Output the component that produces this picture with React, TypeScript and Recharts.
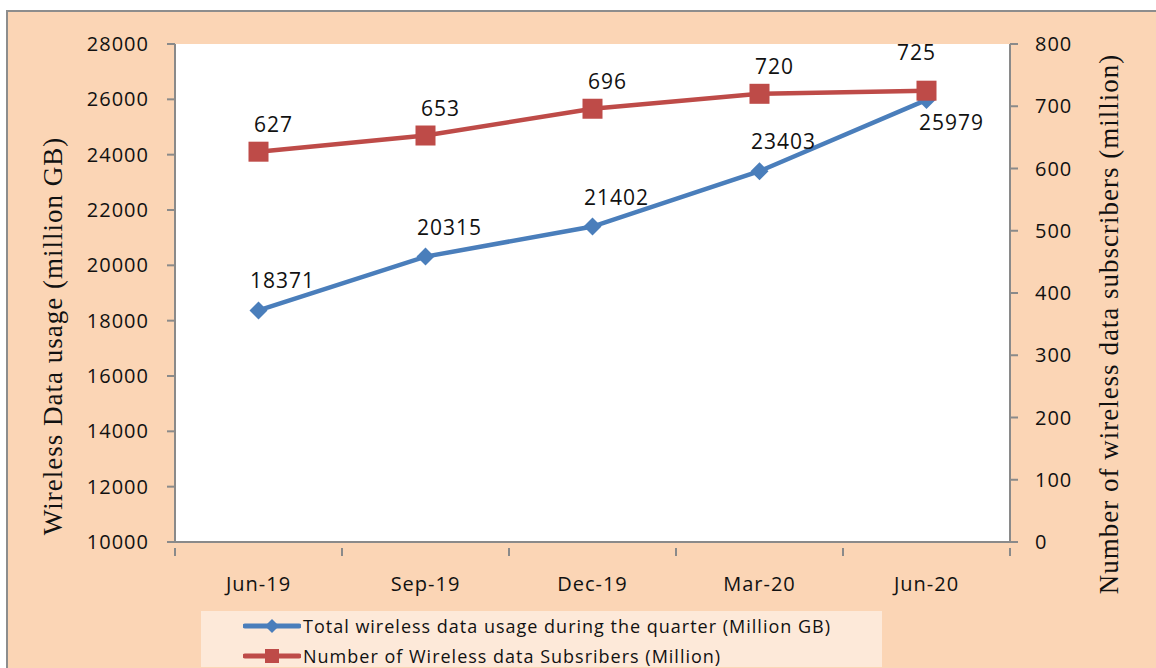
import { LineChart, Line, XAxis, YAxis, CartesianGrid, Legend, LabelList } from "recharts";

const quarters = ["Jun-19", "Sep-19", "Dec-19", "Mar-20", "Jun-20"];
const usage = [18371, 20315, 21402, 23403, 25979];
const subscribers = [627, 653, 696, 720, 725];
const leftTicks = [10000, 12000, 14000, 16000, 18000, 20000, 22000, 24000, 26000, 28000];
const rightTicks = [0, 100, 200, 300, 400, 500, 600, 700, 800];

const usageName = "Total wireless data usage during the quarter (Million GB)";
const subsName = "Number of Wireless data Subsribers (Million)";

const BLUE = "#4A7EBB";
const RED = "#BE4B48";
const AXIS = "#8a8a8a";
const TICK_FONT = "'Open Sans', sans-serif";
const TITLE_FONT = "'Liberation Serif', serif";

const W = 1156;
const H = 668;
const Y_W = 80;
const margin = { top: 44, right: 66, bottom: 86, left: 95 };
const plotW = W - margin.left - margin.right - 2 * Y_W;
const halfBand = plotW / quarters.length / 2;

const data = quarters.map((q, i) => ({ q, usage: usage[i], subs: subscribers[i] }));

const tickStyle = { fontFamily: TICK_FONT, fontSize: 20, letterSpacing: 1, fill: "#111" };

function Diamond(props: any) {
  const { cx, cy } = props;
  if (cx == null || cy == null) return null;
  const r = 9;
  return <polygon points={`${cx},${cy - r} ${cx + r},${cy} ${cx},${cy + r} ${cx - r},${cy}`} fill={BLUE} />;
}

function Square(props: any) {
  const { cx, cy } = props;
  if (cx == null || cy == null) return null;
  return <rect x={cx - 10} y={cy - 10} width={20} height={20} fill={RED} />;
}

function XTick(props: any) {
  const { x, y, payload, index } = props;
  const last = index === quarters.length - 1;
  return (
    <g>
      <line x1={x - halfBand} x2={x - halfBand} y1={y - 2} y2={y + 6} stroke={AXIS} strokeWidth={2} />
      {last && <line x1={x + halfBand} x2={x + halfBand} y1={y - 2} y2={y + 6} stroke={AXIS} strokeWidth={2} />}
      <text x={x} y={y + 33} textAnchor="middle" dominantBaseline="central" {...tickStyle}>
        {payload.value}
      </text>
    </g>
  );
}

function usageLabel(props: any) {
  const { x, y, value, index } = props;
  const last = index === usage.length - 1;
  return (
    <text x={x + (last ? 25 : 24)} y={y + (last ? 22 : -30)} textAnchor="middle" dominantBaseline="central" {...tickStyle} fontSize={21}>
      {value}
    </text>
  );
}

function subsLabel(props: any) {
  const { x, y, value, index } = props;
  const last = index === subscribers.length - 1;
  return (
    <text x={x + (last ? -10 : 15)} y={y + (last ? -39 : -28)} textAnchor="middle" dominantBaseline="central" {...tickStyle} fontSize={21}>
      {value}
    </text>
  );
}

function LegendBox() {
  const rows = [
    { name: usageName, color: BLUE, marker: "diamond" },
    { name: subsName, color: RED, marker: "square" },
  ];
  return (
    <div style={{ background: "#FDE9D9", width: 681, height: 56, paddingLeft: 42, boxSizing: "border-box" }}>
      {rows.map((r) => (
        <div key={r.name} style={{ display: "flex", alignItems: "center", height: 30 }}>
          <svg width={58} height={20}>
            <line x1={2} x2={56} y1={10} y2={10} stroke={r.color} strokeWidth={5} strokeLinecap="round" />
            {r.marker === "diamond" ? (
              <polygon points="29,3 36,10 29,17 22,10" fill={r.color} />
            ) : (
              <rect x={22} y={3} width={14} height={14} fill={r.color} />
            )}
          </svg>
          <span
            style={{
              fontFamily: TICK_FONT,
              fontSize: 18,
              letterSpacing: 1,
              color: "#111",
              marginLeft: 2,
              whiteSpace: "nowrap",
              lineHeight: "30px",
            }}
          >
            {r.name}
          </span>
        </div>
      ))}
    </div>
  );
}

export default function App() {
  return (
    <div style={{ position: "absolute", left: 0, top: 0, width: W, height: H, background: "#fff", overflow: "hidden" }}>
      <div
        style={{
          position: "absolute",
          left: 6,
          top: 10,
          width: W,
          height: H,
          background: "#FBD5B5",
          borderLeft: "2px solid #8d8d8d",
          borderTop: "2px solid #8d8d8d",
        }}
      />
      <div style={{ position: "absolute", left: 0, top: 0 }}>
        <LineChart width={W} height={H} data={data} margin={margin}>
          <CartesianGrid horizontal={false} vertical={false} fill="#ffffff" />
          <XAxis
            dataKey="q"
            height={40}
            stroke={AXIS}
            strokeWidth={2}
            tickLine={false}
            tick={<XTick />}
            interval={0}
            padding={{ left: halfBand, right: halfBand }}
          />
          <YAxis
            yAxisId="left"
            width={Y_W}
            domain={[10000, 28000]}
            ticks={leftTicks}
            stroke={AXIS}
            strokeWidth={2}
            tickSize={8}
            tickMargin={18}
            tick={tickStyle}
            label={{
              value: "Wireless Data usage (million GB)",
              angle: -90,
              position: "center",
              dx: -83,
              dy: 43,
              style: { fontFamily: TITLE_FONT, fontSize: 27, letterSpacing: 1, fill: "#111" },
            }}
          />
          <YAxis
            yAxisId="right"
            orientation="right"
            width={Y_W}
            domain={[0, 800]}
            ticks={rightTicks}
            stroke={AXIS}
            strokeWidth={2}
            tickSize={8}
            tickMargin={17}
            tick={{ ...tickStyle, textAnchor: "start" }}
            label={{
              value: "Number of wireless data subscribers (million)",
              angle: -90,
              position: "center",
              dx: 58,
              dy: 31,
              style: { fontFamily: TITLE_FONT, fontSize: 27, letterSpacing: 1, fill: "#111" },
            }}
          />
          <Legend
            layout="vertical"
            align="center"
            verticalAlign="middle"
            wrapperStyle={{ left: 201, top: 611, width: 681 }}
            content={() => <LegendBox />}
          />
          <Line
            yAxisId="left"
            dataKey="usage"
            name={usageName}
            stroke={BLUE}
            strokeWidth={4.5}
            dot={<Diamond />}
            activeDot={false}
            isAnimationActive={false}
          >
            <LabelList dataKey="usage" content={usageLabel} />
          </Line>
          <Line
            yAxisId="right"
            dataKey="subs"
            name={subsName}
            stroke={RED}
            strokeWidth={4.5}
            dot={<Square />}
            activeDot={false}
            isAnimationActive={false}
          >
            <LabelList dataKey="subs" content={subsLabel} />
          </Line>
        </LineChart>
      </div>
    </div>
  );
}
